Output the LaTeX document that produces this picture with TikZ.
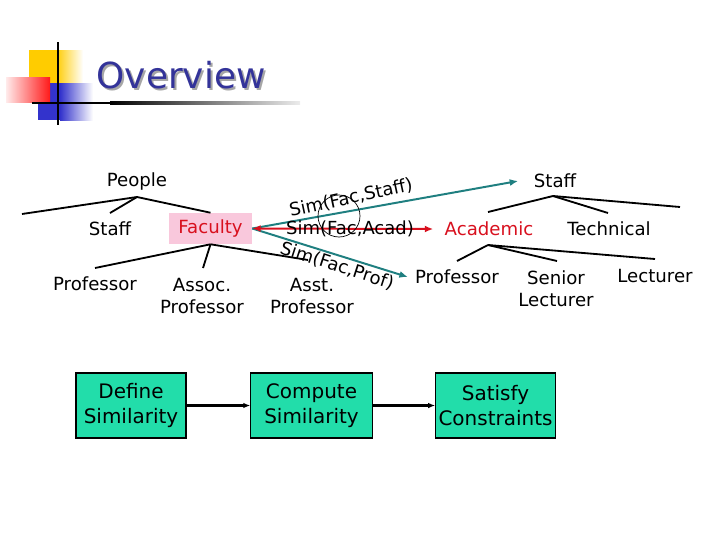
\documentclass[tikz,border=0pt]{standalone}
\usepackage{fontspec}
\setmainfont{DejaVu Sans}
\usetikzlibrary{arrows.meta,positioning,calc}
\definecolor{ovTitle}{HTML}{333399}
\definecolor{ovTeal}{HTML}{1F7F80}
\definecolor{ovRed}{HTML}{D8101E}
\definecolor{ovPink}{HTML}{F9C8DC}
\definecolor{ovMint}{HTML}{22DDAA}
\definecolor{ovYellow}{HTML}{FFCC00}
\definecolor{ovBlue}{HTML}{3333CC}
\tikzset{
    >=Latex,
    term/.style={font=\fontsize{12.9}{15.5}\selectfont, inner sep=1pt, align=center},
    branch/.style={line width=1.3pt, draw=black},
    simlabel/.style={font=\fontsize{12.8}{14}\selectfont, inner sep=1pt},
    simarrow/.style={-{Latex[length=6pt,width=5pt]}, line width=1.4pt, draw=ovTeal},
    acadarrow/.style={{Latex[length=6pt,width=5pt]}-{Latex[length=6pt,width=5pt]}, line width=1.4pt, draw=ovRed},
    stepbox/.style={draw=black, line width=0.8pt, fill=ovMint, align=center, minimum height=1.625cm, inner sep=2pt, font=\fontsize{14.2}{17.5}\selectfont},
    steparrow/.style={-{Latex[length=5pt,width=4pt]}, line width=1.5pt}
}
\begin{document}
\begin{tikzpicture}[x=0.025cm,y=-0.025cm]
\useasboundingbox (0,0) rectangle (720,540);
% title squares
\fill[ovYellow] (29,50) rectangle (56,83);
\shade[left color=ovYellow, right color=white] (56,50) rectangle (83,83);
\fill[ovBlue] (38,83) rectangle (60,120);
\shade[left color=ovBlue, right color=white] (60,83) rectangle (93,120);
\shade[left color=red!8, right color=red!90] (6,77) rectangle (50,102);
\draw[line width=1.6pt] (58,42) -- (58,125);
\fill[black] (32,101.8) rectangle (110,104.2);
\shade[left color=black, right color=gray!15] (110,101.8) rectangle (300,104.2);
\node[text=gray!70, font=\fontsize{25.5}{28}\selectfont] (titleShadow) at (183,77) {Overview};
\node[text=ovTitle, font=\fontsize{25.5}{28}\selectfont] (title) at (181,75) {Overview};

% left tree
\node[term] (people) at (137,181) {People};
\node[term] (staffL) at (110,229) {Staff};
\node[term, fill=ovPink, text=ovRed, minimum width=2.075cm, minimum height=0.775cm] (faculty) at (210.5,228.5) {Faculty};
\node[term] (profL) at (95,284) {Professor};
\node[term] (assoc) at (202,296) {Assoc.\\Professor};
\node[term] (asst) at (312,296) {Asst.\\Professor};
\coordinate (peopleTop) at (137,197);
\coordinate (peopleEnd) at (22,214);
\draw[branch] (peopleTop) -- (peopleEnd);
\draw[branch] (peopleTop) -- (110,213);
\draw[branch] (peopleTop) -- (faculty.north);
\draw[branch] (faculty.south) -- (95,268);
\draw[branch] (faculty.south) -- (203,268);
\draw[branch] (faculty.south) -- (308,260);

% right tree
\node[term] (staffR) at (555,181) {Staff};
\node[term, text=ovRed] (academic) at (489,229) {Academic};
\node[term] (technical) at (609,229) {Technical};
\node[term] (profR) at (457,277) {Professor};
\node[term] (senior) at (556,289) {Senior\\Lecturer};
\node[term] (lecturer) at (655,276) {Lecturer};
\coordinate (staffTop) at (553,196);
\coordinate (staffEnd) at (680,207);
\coordinate (acadTop) at (488,245);
\coordinate (acadEnd) at (655,259);
\draw[branch] (staffTop) -- (488,212);
\draw[branch] (staffTop) -- (608,213);
\draw[branch] (staffTop) -- (staffEnd);
\draw[branch] (acadTop) -- (457,261);
\draw[branch] (acadTop) -- (557,261);
\draw[branch] (acadTop) -- (acadEnd);

% similarity links
\draw[simarrow] (faculty.east) -- ([xshift=-10pt]staffR.west);
\draw[simarrow] (faculty.east) -- ([xshift=-4pt]profR.west);
\draw[acadarrow] (faculty.east) -- ([xshift=-7pt]academic.west);
\node[simlabel, rotate=12] (simStaff) at (351,198) {Sim(Fac,Staff)};
\node[simlabel] (simAcad) at (350,229) {Sim(Fac,Acad)};
\node[simlabel, rotate=-18] (simProf) at (337,266) {Sim(Fac,Prof)};
\draw[line width=0.5pt] (339,216) circle (21);

% steps
\node[stepbox, minimum width=2.75cm] (define) at (131,405.5) {Define\\Similarity};
\node[stepbox, minimum width=3.03cm] (compute) at (311.5,405.5) {Compute\\Similarity};
\node[stepbox, minimum width=2.93cm] (satisfy) at (495.5,405.5) {Satisfy\\Constraints};
\draw[steparrow] (define) -- (compute);
\draw[steparrow] (compute) -- (satisfy);
\end{tikzpicture}
\end{document}
